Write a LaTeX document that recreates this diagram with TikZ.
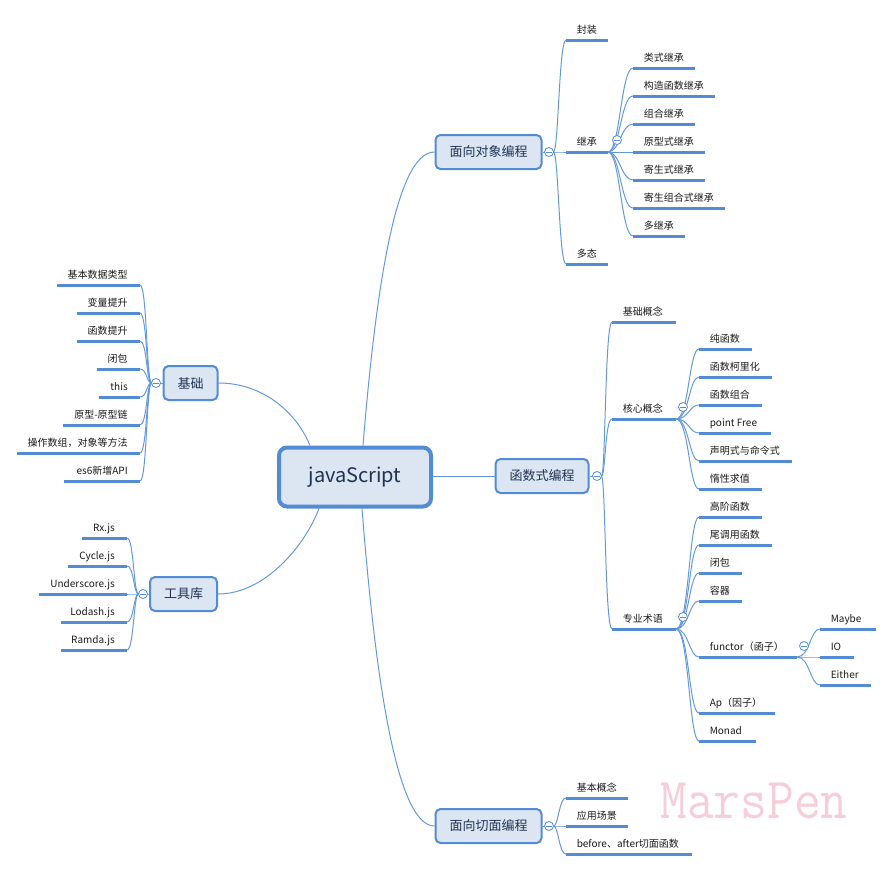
\documentclass[tikz,border=0pt]{standalone}
\usepackage{fontspec}
\setmainfont{Noto Sans CJK SC}
\usetikzlibrary{calc}
\definecolor{mblue}{RGB}{83,139,212}
\definecolor{cblue}{RGB}{100,152,222}
\definecolor{boxfill}{RGB}{220,230,242}
\definecolor{navy}{RGB}{32,50,84}
\definecolor{leaftext}{RGB}{25,25,25}
\definecolor{wmpink}{RGB}{246,206,218}
\tikzset{
  central/.style={draw=mblue, line width=3pt, fill=boxfill, rounded corners=6pt,
    minimum width=114pt, minimum height=44.25pt, inner sep=0pt, text=navy,
    font=\fontsize{15pt}{18pt}\selectfont},
  topic/.style={draw=mblue, line width=1.5pt, fill=boxfill, rounded corners=3.75pt,
    minimum height=25.5pt, inner xsep=10.5pt, inner ysep=0pt, text=navy,
    font=\fontsize{9.75pt}{12pt}\selectfont},
  leaf/.style={inner sep=0pt, text=leaftext, font=\fontsize{7.5pt}{9pt}\selectfont},
  uline/.style={draw=mblue, line width=2.25pt},
  conn/.style={draw=cblue, line width=0.75pt},
  fold/.style={circle, draw=mblue, fill=white, line width=0.6pt, minimum size=6.75pt,
    inner sep=0pt,
    path picture={\draw[mblue, line width=0.5pt]
      ([xshift=-1.9pt]path picture bounding box.center) --
      ([xshift=1.9pt]path picture bounding box.center);}},
}
\newcommand\leafR[5]{%
  \coordinate (#1s) at (#2,#4);
  \coordinate (#1e) at (#3,#4);
  \draw[uline] (#1s) -- (#1e);
  \node[leaf,anchor=base west] (#1) at ($(#1s)+(10.5,-7)$) {#5};}
\newcommand\leafL[5]{%
  \coordinate (#1s) at (#2,#4);
  \coordinate (#1e) at (#3,#4);
  \draw[uline] (#1s) -- (#1e);
  \node[leaf,anchor=base east] (#1) at ($(#1e)+(-12,-7)$) {#5};}
\newcommand\brR[4]{\draw[conn] (#1) .. controls +(#3,0) and +(-#4,0) .. (#2);}
\newcommand\brL[4]{\draw[conn] (#1) .. controls +(-#3,0) and +(#4,0) .. (#2);}
\begin{document}
\begin{tikzpicture}[x=0.75pt, y=-0.75pt]
\useasboundingbox (0,0) rectangle (894,871);

% main nodes
\node[central] (js) at (355,477) {javaScript};
\node[topic] (oop) at (488.5,152) {面向对象编程};
\node[topic] (fp) at (542,476) {函数式编程};
\node[topic] (aop) at (488.5,826) {面向切面编程};
\node[topic] (jc) at (190.5,383) {基础};
\node[topic] (tk) at (183.5,594) {工具库};

% main connectors
\draw[conn] ($(js.north)+(8,0)$) .. controls +(12,-146) and +(-40,0) .. (oop.west);
\draw[conn] ($(js.south)+(7,0)$) .. controls +(12,152) and +(-40,0) .. (aop.west);
\draw[conn] (jc.east) .. controls +(42,0) and +(-15,-36) .. ($(js.north)+(-45,0)$);
\draw[conn] (tk.east) .. controls +(47,0) and +(-14,37) .. ($(js.south)+(-36,0)$);
\draw[conn] (js.east |- fp.west) -- (fp.west);

% fold points
\coordinate (oopP) at (553.5,152);
\coordinate (fpP) at (601.5,476);
\coordinate (aopP) at (553.5,826);
\coordinate (jcP) at (151.5,383);
\coordinate (tkP) at (138.5,594);
\draw[conn] (oop.east) -- (oopP);
\draw[conn] (fp.east) -- (fpP);
\draw[conn] (aop.east) -- (aopP);
\draw[conn] (jc.west) -- (jcP);
\draw[conn] (tk.west) -- (tkP);

% OOP children
\leafR{oa}{566}{608}{40}{封装}
\leafR{ob}{566}{608}{152}{继承}
\leafR{oc}{566}{608}{264}{多态}
\foreach \c in {oa,ob,oc} {\brR{oopP}{\c s}{5}{7}}

% inheritance children
\leafR{ja}{633}{695}{68}{类式继承}
\leafR{jb}{633}{715}{96}{构造函数继承}
\leafR{jd}{633}{695}{124}{组合继承}
\leafR{je}{633}{705}{152}{原型式继承}
\leafR{jf}{633}{705}{180}{寄生式继承}
\leafR{jg}{633}{725}{208}{寄生组合式继承}
\leafR{jh}{633}{685}{236}{多继承}
\foreach \c in {ja,jb,jd,je,jf,jg,jh} {\brR{obe}{\c s}{12}{12}}

% FP children
\leafR{fa}{612}{676}{322}{基础概念}
\leafR{fb}{612}{676}{419}{核心概念}
\leafR{fc}{612}{676}{629}{专业术语}
\foreach \c in {fa,fb,fc} {\brR{fpP}{\c s}{4}{7}}

% core concepts
\leafR{ka}{699}{752}{349}{纯函数}
\leafR{kb}{699}{772}{377}{函数柯里化}
\leafR{kc}{699}{762}{405}{函数组合}
\leafR{kd}{699}{771}{433}{point Free}
\leafR{ke}{699}{792}{461}{声明式与命令式}
\leafR{kf}{699}{762}{489}{惰性求值}
\foreach \c in {ka,kb,kc,kd,ke,kf} {\brR{fbe}{\c s}{13}{10}}

% terminology
\leafR{za}{699}{762}{517}{高阶函数}
\leafR{zb}{699}{772}{545}{尾调用函数}
\leafR{zc}{699}{742}{573}{闭包}
\leafR{zd}{699}{742}{601}{容器}
\leafR{ze}{699}{797}{657}{functor（函子）}
\leafR{zf}{699}{775}{713}{Ap（因子）}
\leafR{zg}{699}{756}{741}{Monad}
\foreach \c in {za,zb,zc,zd,ze,zf,zg} {\brR{fce}{\c s}{13}{10}}

% functor children
\leafR{ma}{820}{876}{629}{Maybe}
\leafR{mb}{820}{854}{657}{IO}
\leafR{mc}{820}{871}{685}{Either}
\foreach \c in {ma,mb,mc} {\brR{zee}{\c s}{13}{10}}

% AOP children
\leafR{aa}{566}{628}{798}{基本概念}
\leafR{ab}{566}{628}{826}{应用场景}
\leafR{ac}{566}{692}{854}{before、after切面函数}
\foreach \c in {aa,ab,ac} {\brR{aopP}{\c s}{5}{7}}

% basics children
\leafL{ba}{57}{140}{285}{基本数据类型}
\leafL{bb}{77}{140}{313}{变量提升}
\leafL{bc}{77}{140}{341}{函数提升}
\leafL{bd}{97}{140}{369}{闭包}
\leafL{be}{99}{140}{397}{this}
\leafL{bf}{63}{140}{425}{原型-原型链}
\leafL{bg}{17}{140}{453}{操作数组，对象等方法}
\leafL{bh}{64}{140}{481}{es6新增API}
\foreach \c in {ba,bb,bc,bd,be,bf,bg,bh} {\brL{jcP}{\c e}{5}{7}}

% tool library children
\leafL{ta}{82}{127}{538}{Rx.js}
\leafL{tb}{68}{127}{566}{Cycle.js}
\leafL{tc}{39}{127}{594}{Underscore.js}
\leafL{td}{61}{127}{622}{Lodash.js}
\leafL{te}{61}{127}{650}{Ramda.js}
\foreach \c in {ta,tb,tc,td,te} {\brL{tkP}{\c e}{5}{7}}

% fold circles
\node[fold] (oopC) at (549,152) {};
\node[fold] (fpC) at (597,476) {};
\node[fold] (aopC) at (549,826) {};
\node[fold] (jcC) at (156,383) {};
\node[fold] (tkC) at (143,594) {};
\node[fold] (obC) at (617,140) {};
\node[fold] (fbC) at (683,407) {};
\node[fold] (fcC) at (683,617) {};
\node[fold] (zeC) at (804,646) {};

% watermark
\node[inner sep=0pt, anchor=base west, text=wmpink,
  font=\ttfamily\fontsize{39pt}{39pt}\selectfont] (wm) at (660,818)
  {\scalebox{1}[1.12]{MarsPen}};
\end{tikzpicture}
\end{document}
